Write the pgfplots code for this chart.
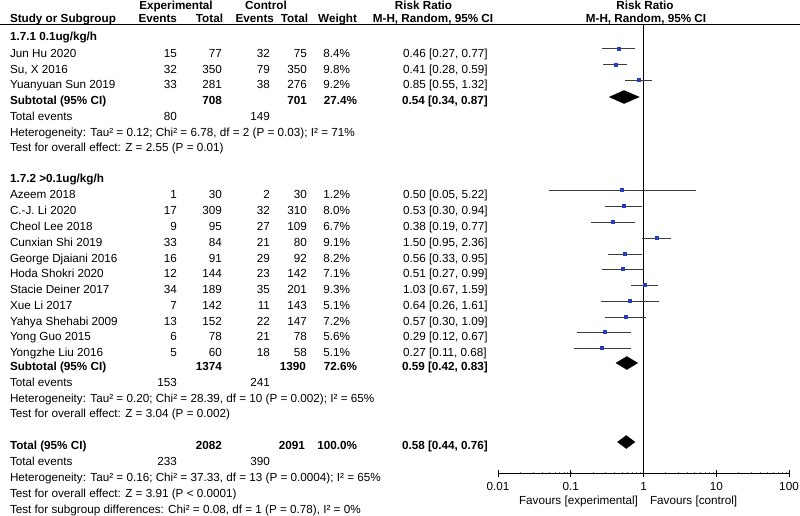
\documentclass[border=0pt]{standalone}
\usepackage{fontspec}
\setmainfont{Liberation Sans}
\usepackage{pgfplots}
\pgfplotsset{compat=1.18}
\definecolor{mk}{RGB}{40,60,190}
\definecolor{ci}{RGB}{60,60,60}
\newcommand\tL[3]{\node[t,anchor=base west] at (#1,#2) {#3};}
\newcommand\tR[3]{\node[t,anchor=base east] at (#1,#2) {#3};}
\newcommand\tC[3]{\node[t,anchor=base] at (#1,#2) {#3};}
\newcommand\study[8]{\tL{10}{#1}{#2}\tR{177}{#1}{#3}\tR{222}{#1}{#4}\tR{270}{#1}{#5}\tR{307}{#1}{#6}\tR{350}{#1}{#7}\tL{403}{#1}{#8}}
\begin{document}
\begin{tikzpicture}[x=1pt,y=-1pt,font=\fontsize{11.7}{14}\selectfont,t/.style={inner sep=0pt,outer sep=0pt}]
\useasboundingbox (0,0) rectangle (800,516);
\begin{axis}[at={(498pt,-473pt)}, anchor=south west, width=291pt, height=448pt, scale only axis,
  xmode=log, xmin=0.01, xmax=100, ymin=-473, ymax=-25,
  axis x line*=bottom, axis y line=none, x axis line style={-,line width=0.9pt},
  xtick={0.01,0.1,1,10,100}, xticklabels={0.01,0.1,1,10,100}, minor xtick={},
  xtick align=center, major tick length=7pt, major tick style={line width=0.9pt,black},
  xticklabel style={font=\fontsize{11.7}{14}\selectfont, yshift=-2pt},
  clip=false]
\addplot[black,line width=0.9pt] coordinates {(1,-25) (1,-473)};
% confidence intervals
\addplot[ci,line width=1pt,unbounded coords=jump] coordinates {
(0.27,-49) (0.77,-49) (nan,nan)
(0.28,-65) (0.59,-65) (nan,nan)
(0.55,-80) (1.32,-80) (nan,nan)
(0.05,-190) (5.22,-190) (nan,nan)
(0.30,-206) (0.94,-206) (nan,nan)
(0.19,-222) (0.77,-222) (nan,nan)
(0.95,-238) (2.36,-238) (nan,nan)
(0.33,-254) (0.95,-254) (nan,nan)
(0.27,-269) (0.99,-269) (nan,nan)
(0.67,-285) (1.59,-285) (nan,nan)
(0.26,-301) (1.61,-301) (nan,nan)
(0.30,-317) (1.09,-317) (nan,nan)
(0.12,-332) (0.67,-332) (nan,nan)
(0.11,-348) (0.68,-348)
};
\addplot[only marks,mark=square*,mark size=1.5pt,color=mk] coordinates {
(0.46,-49) (0.41,-65) (0.85,-80)
(0.50,-190) (0.53,-206) (0.38,-222) (1.50,-238) (0.56,-254) (0.51,-269)
(1.03,-285) (0.64,-301) (0.57,-317) (0.29,-332) (0.27,-348)
};
% pooled diamonds
\addplot[fill=black,draw=black] coordinates {(0.34,-97) (0.54,-90.5) (0.87,-97) (0.54,-103.5)} -- cycle;
\addplot[fill=black,draw=black] coordinates {(0.42,-363) (0.59,-356.5) (0.83,-363) (0.59,-369.5)} -- cycle;
\addplot[fill=black,draw=black] coordinates {(0.44,-442) (0.58,-435.5) (0.76,-442) (0.58,-448.5)} -- cycle;
\end{axis}
% header
\draw[line width=1pt] (0,24.5) -- (800,24.5);
\begin{scope}[font=\fontsize{11.7}{14}\selectfont\bfseries]
\tC{176}{9.2}{Experimental}
\tC{266}{9.2}{Control}
\tC{423.5}{9.2}{Risk Ratio}
\tC{645}{9.2}{Risk Ratio}
\tL{10}{23}{Study or Subgroup}
\tR{177}{23}{Events}
\tR{223}{23}{Total}
\tR{274}{23}{Events}
\tR{308}{23}{Total}
\tR{357}{23}{Weight}
\tC{433}{23}{M-H, Random, 95\% CI}
\tC{646}{23}{M-H, Random, 95\% CI}
\tL{10}{40.2}{1.7.1 0.1ug/kg/h}
\tL{10}{104.2}{Subtotal (95\% CI)}
\tR{222}{104.2}{708}\tR{307}{104.2}{701}\tR{357}{104.2}{27.4\%}\tL{402}{104.2}{0.54 [0.34, 0.87]}
\tL{10}{182.2}{1.7.2 >0.1ug/kg/h}
\tL{10}{370.2}{Subtotal (95\% CI)}
\tR{222}{370.2}{1374}\tR{306}{370.2}{1390}\tR{357}{370.2}{72.6\%}\tL{402}{370.2}{0.59 [0.42, 0.83]}
\tL{10}{449.2}{Total (95\% CI)}
\tR{222}{449.2}{2082}\tR{305}{449.2}{2091}\tR{357}{449.2}{100.0\%}\tL{402}{449.2}{0.58 [0.44, 0.76]}
\end{scope}
% studies
\study{57.2}{Jun Hu 2020}{15}{77}{32}{75}{8.4\%}{0.46 [0.27, 0.77]}
\study{73.2}{Su, X 2016}{32}{350}{79}{350}{9.8\%}{0.41 [0.28, 0.59]}
\study{88.2}{Yuanyuan Sun 2019}{33}{281}{38}{276}{9.2\%}{0.85 [0.55, 1.32]}
\tL{10}{121}{Total events}\tR{177}{121}{80}\tR{270}{121}{149}
\tL{10}{136.2}{Heterogeneity: Tau² = 0.12; Chi² = 6.78, df = 2 (P = 0.03); I² = 71\%}
\tL{10}{151.2}{Test for overall effect: Z = 2.55 (P = 0.01)}
\study{198.2}{Azeem 2018}{1}{30}{2}{30}{1.2\%}{0.50 [0.05, 5.22]}
\study{214.2}{C.-J. Li 2020}{17}{309}{32}{310}{8.0\%}{0.53 [0.30, 0.94]}
\study{230.2}{Cheol Lee 2018}{9}{95}{27}{109}{6.7\%}{0.38 [0.19, 0.77]}
\study{246.2}{Cunxian Shi 2019}{33}{84}{21}{80}{9.1\%}{1.50 [0.95, 2.36]}
\study{262.2}{George Djaiani 2016}{16}{91}{29}{92}{8.2\%}{0.56 [0.33, 0.95]}
\study{277.2}{Hoda Shokri 2020}{12}{144}{23}{142}{7.1\%}{0.51 [0.27, 0.99]}
\study{293.2}{Stacie Deiner 2017}{34}{189}{35}{201}{9.3\%}{1.03 [0.67, 1.59]}
\study{309.2}{Xue Li 2017}{7}{142}{11}{143}{5.1\%}{0.64 [0.26, 1.61]}
\study{325.2}{Yahya Shehabi 2009}{13}{152}{22}{147}{7.2\%}{0.57 [0.30, 1.09]}
\study{340.2}{Yong Guo 2015}{6}{78}{21}{78}{5.6\%}{0.29 [0.12, 0.67]}
\study{356.2}{Yongzhe Liu 2016}{5}{60}{18}{58}{5.1\%}{0.27 [0.11, 0.68]}
\tL{10}{386.2}{Total events}\tR{177}{386.2}{153}\tR{270}{386.2}{241}
\tL{10}{402.2}{Heterogeneity: Tau² = 0.20; Chi² = 28.39, df = 10 (P = 0.002); I² = 65\%}
\tL{10}{417.2}{Test for overall effect: Z = 3.04 (P = 0.002)}
\tL{10}{465}{Total events}\tR{177}{465}{233}\tR{270}{465}{390}
\tL{10}{481}{Heterogeneity: Tau² = 0.16; Chi² = 37.33, df = 13 (P = 0.0004); I² = 65\%}
\tL{10}{497}{Test for overall effect: Z = 3.91 (P < 0.0001)}
\tL{10}{513}{Test for subgroup differences: Chi² = 0.08, df = 1 (P = 0.78), I² = 0\%}
\tR{638}{504.2}{Favours [experimental]}
\tL{650}{504.2}{Favours [control]}
\end{tikzpicture}
\end{document}
